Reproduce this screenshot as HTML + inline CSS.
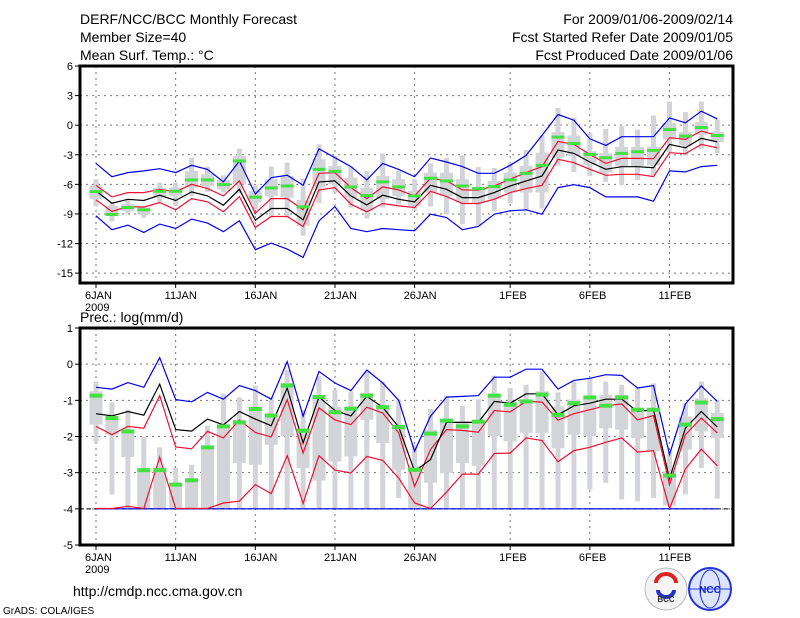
<!DOCTYPE html>
<html><head><meta charset="utf-8"><style>
html,body{margin:0;padding:0;background:#fff;}
svg{display:block;font-family:"Liberation Sans",sans-serif;}
</style></head><body>
<svg id="c" width="800" height="618" viewBox="0 0 800 618" xmlns="http://www.w3.org/2000/svg">
<g font-size="14" fill="#000">
<text x="80" y="24">DERF/NCC/BCC Monthly Forecast</text>
<text x="80" y="42">Member Size=40</text>
<text x="80" y="60">Mean Surf. Temp.: °C</text>
<text x="733" y="24" text-anchor="end">For 2009/01/06-2009/02/14</text>
<text x="733" y="42" text-anchor="end">Fcst Started Refer Date 2009/01/05</text>
<text x="733" y="60" text-anchor="end">Fcst Produced Date 2009/01/06</text>
<text x="80" y="322">Prec.: log(mm/d)</text>
<text x="73" y="596">http://cmdp.ncc.cma.gov.cn</text>
<text x="3" y="614" font-size="10">GrADS: COLA/IGES</text>
</g>
<g>
<circle cx="666" cy="589" r="21" fill="#f4f4f4" stroke="#bbb"/>
<path d="M656 583 a10 9 0 0 1 20 0" fill="none" stroke="#d22" stroke-width="4"/>
<path d="M658 590 a8 7 0 0 0 16 0" fill="none" stroke="#23c" stroke-width="4"/>
<text x="666" y="602" font-size="8" text-anchor="middle" font-weight="bold" fill="#333">BCC</text>
</g>
<g>
<circle cx="710" cy="589" r="21" fill="#dde4ff" stroke="#23d" stroke-width="2"/>
<ellipse cx="710" cy="589" rx="10" ry="19" fill="none" stroke="#23d"/>
<line x1="690" y1="589" x2="730" y2="589" stroke="#23d"/>
<text x="710" y="593" font-size="10" text-anchor="middle" font-weight="bold" fill="#12c">NCC</text>
</g>
</svg>
<script>
// ---- Temperature panel data (°C) ----
const days = ["6JAN","","","","","11JAN","","","","","16JAN","","","","","21JAN","","","","","26JAN","","","","","","1FEB","","","","","6FEB","","","","","11FEB","","",""];
const tTicks = [6,3,0,-3,-6,-9,-12,-15];
const tMean = [-6.66,-7.91,-7.51,-7.64,-7.1,-7.64,-6.76,-7.17,-8.11,-6.5,-9.63,-8.45,-8.45,-9.59,-5.75,-5.65,-7.17,-8.08,-7.1,-7.51,-7.77,-6.09,-6.5,-7.34,-7.34,-6.83,-6.16,-5.65,-5.15,-2.52,-2.86,-3.73,-4.47,-4.21,-4.21,-4.31,-1.95,-2.29,-1.34,-1.68];
const tRedHi = [-6.09,-7.27,-6.83,-6.83,-6.5,-6.76,-5.99,-6.43,-7.17,-5.65,-8.92,-7.44,-7.44,-8.58,-4.88,-4.81,-6.33,-7.44,-6.26,-6.56,-7.17,-5.38,-5.65,-6.56,-6.59,-6.16,-5.48,-4.81,-4.2,-1.64,-1.95,-2.96,-3.87,-3.37,-3.37,-3.4,-1.27,-1.44,-0.6,-1.04];
const tRedLo = [-7.57,-8.75,-8.24,-8.31,-7.84,-8.58,-7.44,-7.77,-8.78,-7.24,-10.37,-9.26,-9.26,-10.27,-6.56,-6.33,-8.01,-8.78,-7.94,-8.18,-8.35,-6.7,-7.24,-7.94,-7.94,-7.5,-6.83,-6.43,-6.09,-3.46,-3.8,-4.47,-5.08,-4.98,-4.98,-5.21,-2.79,-2.89,-1.95,-2.29];
const tBlueHi = [-3.87,-5.22,-4.81,-4.64,-4.41,-4.81,-4.07,-4.48,-5.75,-3.63,-6.99,-5.32,-5.08,-6.09,-2.39,-3.3,-4.2,-5.55,-3.87,-4.48,-5.22,-3.33,-3.73,-4.2,-4.88,-4.88,-4.07,-3.06,-1.04,1.08,0.51,-1.38,-2.05,-1.17,-1.17,-1.17,0.74,0.24,1.42,0.64];
const tBlueLo = [-9.19,-10.6,-10.13,-10.87,-10.03,-10.47,-9.52,-9.93,-10.8,-9.69,-12.62,-11.95,-12.56,-13.4,-9.69,-8.25,-10.47,-10.8,-10.47,-10.6,-10.7,-9.02,-9.36,-10.6,-10.27,-9.02,-8.68,-8.58,-9.02,-6.33,-6.03,-6.33,-7.27,-7.27,-7.27,-7.71,-4.64,-4.74,-4.2,-4.07];
const tGreen = [-6.73,-9.05,-8.35,-8.58,-6.7,-6.7,-5.55,-5.55,-6.03,-3.63,-7.3,-6.36,-6.16,-8.28,-4.48,-4.68,-6.26,-7.13,-5.75,-6.26,-7.17,-5.38,-5.65,-6.16,-6.43,-6.23,-5.55,-4.88,-4.07,-1.21,-1.85,-2.96,-3.3,-2.86,-2.69,-2.56,-0.44,-1.11,-0.23,-1.04];
const tMax = [-5.48,-7.77,-7.5,-8.18,-5.82,-5.82,-3.3,-4.2,-5.08,-2.39,-6.09,-4.2,-3.8,-5.42,-1.95,-3.13,-4.2,-4.64,-2.86,-4.64,-5.48,-3.87,-3.33,-3.06,-4.24,-4.34,-3.8,-2.52,-1.04,1.75,0.74,-0.84,-0.37,-0.1,-0.44,0.98,2.39,1.32,2.39,0.58];
const tMin = [-8.24,-9.73,-8.92,-9.39,-7.77,-8.18,-7.17,-6.76,-6.83,-6.9,-8.58,-9.36,-9.36,-11.21,-7.91,-6.83,-8.35,-9.46,-8.35,-8.04,-8.68,-8.24,-9.05,-10.03,-10.2,-8.72,-7.91,-8.72,-8.45,-4.07,-4.74,-5.15,-5.75,-6.09,-5.55,-5.08,-2.73,-3.06,-2.39,-2.86];
const tQ3 = [-6.16,-8.18,-8.0,-8.35,-6.33,-6.33,-4.64,-4.98,-5.55,-3.13,-6.66,-5.48,-5.15,-7.57,-3.46,-4.14,-5.32,-6.33,-5.15,-5.48,-6.66,-4.81,-4.81,-5.48,-6.33,-5.65,-4.81,-4.14,-2.79,-0.7,-1.04,-2.62,-2.86,-2.19,-2.19,-2.19,0.24,-0.7,0.31,-0.7];
const tQ1 = [-7.5,-9.19,-8.68,-9.02,-7.34,-7.17,-6.33,-6.16,-6.5,-5.99,-7.84,-7.17,-7.34,-10.2,-6.33,-5.99,-7.34,-8.68,-7.5,-7.17,-8.18,-6.83,-7.17,-7.84,-7.84,-7.5,-6.83,-6.83,-6.83,-3.3,-3.13,-4.07,-4.81,-4.14,-4.14,-4.07,-1.44,-2.05,-0.94,-1.71];

// ---- Precipitation panel data (log mm/d) ----
const pTicks = [1,0,-1,-2,-3,-4,-5];
const pMean = [-1.37,-1.43,-1.31,-1.41,-0.55,-1.81,-1.85,-1.52,-1.68,-1.31,-1.52,-1.7,-0.66,-2.18,-0.91,-1.28,-1.43,-0.89,-1.19,-1.74,-2.96,-2.64,-1.61,-1.61,-1.61,-1.03,-1.08,-0.82,-0.82,-1.4,-1.15,-1.08,-0.97,-0.97,-1.31,-1.26,-3.17,-1.77,-1.31,-1.74];
const pBlueHi = [-0.64,-0.69,-0.51,-0.64,0.18,-0.98,-1.04,-0.78,-0.97,-0.59,-0.73,-0.97,0.07,-1.44,-0.2,-0.52,-0.73,-0.16,-0.52,-1.0,-2.41,-1.44,-0.91,-0.89,-0.87,-0.36,-0.36,-0.14,-0.14,-0.69,-0.45,-0.39,-0.29,-0.31,-0.66,-0.59,-2.5,-1.1,-0.6,-1.03];
const pBlueLo = [-4,-4,-4,-4,-4,-4,-4,-4,-4,-4,-4,-4,-4,-4,-4,-4,-4,-4,-4,-4,-4,-4,-4,-4,-4,-4,-4,-4,-4,-4,-4,-4,-4,-4,-4,-4,-4,-4,-4,-4];
const pRedHi = [-1.72,-1.95,-1.72,-1.77,-0.87,-2.29,-2.34,-1.86,-2.04,-1.54,-1.89,-2.01,-0.98,-2.46,-1.21,-1.54,-1.67,-1.19,-1.35,-1.9,-3.38,-2.36,-1.81,-1.83,-1.88,-1.28,-1.32,-1.03,-1.05,-1.55,-1.37,-1.26,-1.15,-1.1,-1.54,-1.42,-3.33,-1.95,-1.49,-1.9];
const pRedLo = [-3.99,-3.99,-3.93,-3.99,-2.57,-3.99,-3.99,-3.99,-3.84,-3.79,-3.33,-3.58,-2.53,-3.85,-2.53,-2.93,-3.01,-2.55,-2.66,-3.15,-3.84,-3.99,-3.54,-3.04,-3.04,-2.47,-2.46,-2.04,-2.11,-2.7,-2.39,-2.3,-2.16,-2.04,-2.43,-2.39,-3.99,-2.9,-2.35,-2.81];
const pGreen = [-0.87,-1.49,-1.86,-2.93,-2.93,-3.33,-3.21,-2.3,-1.72,-1.61,-1.24,-1.42,-0.59,-1.84,-0.91,-1.33,-1.23,-0.87,-1.19,-1.74,-2.92,-1.92,-1.56,-1.72,-1.59,-0.87,-1.12,-1.03,-0.84,-1.4,-1.08,-0.92,-1.15,-0.92,-1.26,-1.26,-3.08,-1.67,-1.06,-1.52];
const pMax = [-0.48,-1.06,-1.26,-2.01,-2.3,-2.87,-2.78,-1.7,-0.82,-0.92,-0.6,-0.91,-0.16,-1.26,-0.32,-0.71,-0.75,-0.2,-0.48,-0.98,-2.23,-1.24,-0.87,-1.15,-0.97,-0.32,-0.66,-0.57,-0.2,-0.78,-0.48,-0.39,-0.48,-0.57,-0.66,-0.53,-2.46,-1.08,-0.48,-0.98];
const pMin = [-2.16,-3.6,-4,-4,-4,-4,-4,-4,-4,-4,-4,-4,-4,-4,-4,-4,-4,-4,-4,-3.7,-3.97,-3.97,-3.97,-3.97,-3.97,-3.97,-3.97,-3.97,-3.97,-3.97,-3.97,-3.47,-3.28,-3.74,-3.79,-3.7,-3.91,-3.6,-2.87,-3.72];
const pQ3 = [-0.75,-1.45,-1.81,-2.91,-2.91,-3.33,-3.19,-2.27,-1.72,-1.54,-1.21,-1.4,-0.52,-1.81,-0.85,-1.17,-1.21,-0.8,-1.12,-1.72,-2.82,-1.81,-1.54,-1.58,-1.54,-0.85,-1.03,-0.98,-0.75,-1.17,-0.98,-0.98,-0.85,-0.85,-1.21,-1.21,-2.96,-1.45,-0.94,-1.35];
const pQ1 = [-1.67,-1.95,-2.57,-4,-4,-4,-4,-4,-4,-2.73,-2.78,-2.23,-1.99,-2.87,-3.22,-2.69,-2.55,-1.54,-2.18,-2.92,-3.97,-3.28,-3.01,-2.73,-2.81,-1.99,-2.13,-1.9,-1.9,-2.32,-1.95,-1.99,-1.77,-1.81,-2.04,-2.41,-3.91,-2.36,-1.86,-2.04];

const NS = "http://www.w3.org/2000/svg";
const svg = document.getElementById('c');
function mk(tag, attrs, parent){const e=document.createElementNS(NS,tag);for(const k in attrs)e.setAttribute(k,attrs[k]);(parent||svg).appendChild(e);return e;}
const L = 80, R = 733;
function xs(i){return 96 + i*15.93;}

function panel(cfg){
  const g = mk('g',{});
  
  
  const ys = v => cfg.top + (cfg.vmax - v) * (cfg.bot - cfg.top) / (cfg.vmax - cfg.vmin);
  // grid
  cfg.ticks.forEach(t=>{
    const y = ys(t);
    if (t!==cfg.vmax && t!==cfg.vmin){
      const gl = mk('line',{x1:L,x2:R,y1:y,y2:y,stroke:'#777','stroke-width':1,'stroke-dasharray':'2 4'},g);
      
      
    }
    const tk = mk('line',{x1:L-5,x2:L,y1:y,y2:y,stroke:'#000'},g);
    
    
    const tl = mk('text',{x:L-7,y:y+4,'font-size':11,'text-anchor':'end'},g);
    tl.textContent = t;
    
    
  });
  days.forEach((d,i)=>{
    if(!d) return;
    const x = xs(i);
    const vl = mk('line',{x1:x,x2:x,y1:cfg.top,y2:cfg.bot,stroke:'#777','stroke-dasharray':'2 4'},g);
    
    
    const tk = mk('line',{x1:x,x2:x,y1:cfg.bot,y2:cfg.bot+5,stroke:'#000'},g);
    
    
    const tl = mk('text',{x:x-11,y:cfg.bot+16,'font-size':11},g);
    tl.textContent = d;
    
    
  });
  const yr = mk('text',{x:xs(0)-11,y:cfg.bot+28,'font-size':11},g);
  yr.textContent = '2009';
  
  
  // ensemble bars
  cfg.max.forEach((mx,i)=>{
    const x = xs(i);
    const w = mk('rect',{x:x-2.5,y:ys(mx),width:5,height:ys(cfg.min[i])-ys(mx),fill:'#d3d4d8'},g);
    
    
    const b = mk('rect',{x:x-6.5,y:ys(cfg.q3[i]),width:13,height:ys(cfg.q1[i])-ys(cfg.q3[i]),fill:'#d3d4d8'},g);
    
    
  });
  if (cfg.zeroLine!==undefined){
    const z = mk('line',{x1:L,x2:R,y1:ys(cfg.zeroLine),y2:ys(cfg.zeroLine),stroke:'#000','stroke-dasharray':'4 3'},g);
    
    
  }
  const line = (arr,col,name)=>{
    const p = mk('polyline',{points:arr.map((v,i)=>xs(i).toFixed(1)+','+ys(v).toFixed(1)).join(' '),fill:'none',stroke:col,'stroke-width':1.2},g);
    
    
  };
  line(cfg.blueHi,'#0000ee','blue-upper-line');
  line(cfg.blueLo,'#0000ee','blue-lower-line');
  line(cfg.redHi,'#ee1133','red-upper-line');
  line(cfg.redLo,'#ee1133','red-lower-line');
  line(cfg.mean,'#000','ensemble-mean-line');
  cfg.green.forEach((v,i)=>{
    const m = mk('rect',{x:xs(i)-6.5,y:ys(v)-cfg.gh/2,width:13,height:cfg.gh,fill:'#44e044'},g);
    
    
  });
  const fr = mk('rect',{x:L,y:cfg.top,width:R-L,height:cfg.bot-cfg.top,fill:'none',stroke:'#000','stroke-width':3},g);
  
  
}
panel({name:'temperature-panel',top:66,bot:283,vmax:6,vmin:-16,ticks:tTicks,mean:tMean,redHi:tRedHi,redLo:tRedLo,blueHi:tBlueHi,blueLo:tBlueLo,green:tGreen,max:tMax,min:tMin,q3:tQ3,q1:tQ1,gh:3});
panel({name:'precip-panel',top:328,bot:545,vmax:1,vmin:-5,ticks:pTicks,mean:pMean,redHi:pRedHi,redLo:pRedLo,blueHi:pBlueHi,blueLo:pBlueLo,green:pGreen,max:pMax,min:pMin,q3:pQ3,q1:pQ1,gh:4,zeroLine:-4});
</script>
</body></html>
